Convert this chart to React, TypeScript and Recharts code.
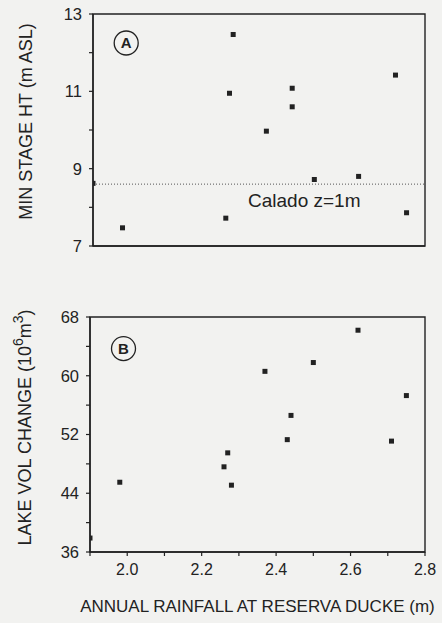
import React from "react";
import {
  ScatterChart,
  Scatter,
  XAxis,
  YAxis,
  ZAxis,
  ReferenceLine,
  ReferenceArea,
  ReferenceDot,
  Label,
} from "recharts";

// annual rainfall at Reserva Ducke (m), one per year
const rainA = [1.9, 1.98, 2.26, 2.27, 2.28, 2.37, 2.44, 2.44, 2.5, 2.62, 2.72, 2.75];
const minStage = [8.62, 7.47, 7.72, 10.95, 12.47, 9.97, 11.08, 10.6, 8.72, 8.8, 11.42, 7.86];

const rainB = [1.9, 1.98, 2.26, 2.27, 2.28, 2.37, 2.43, 2.44, 2.5, 2.62, 2.71, 2.75];
const volChange = [37.9, 45.5, 47.6, 49.5, 45.1, 60.6, 51.3, 54.6, 61.8, 66.2, 51.1, 57.3];

const xTicks = [1.9, 2.0, 2.1, 2.2, 2.3, 2.4, 2.5, 2.6, 2.7, 2.8];
const xLabels = ["2.0", "2.2", "2.4", "2.6", "2.8"];
const yTicksA = [7, 8, 9, 10, 11, 12, 13];
const yLabelsA = [7, 9, 11, 13];
const yTicksB = [36, 40, 44, 48, 52, 56, 60, 64, 68];
const yLabelsB = [36, 44, 52, 60, 68];

const caladoLevel = 8.6;

const dataA = rainA.map((x, i) => ({ x, y: minStage[i] }));
const dataB = rainB.map((x, i) => ({ x, y: volChange[i] }));

const INK = "#222";
const BG = "#f2f2f0";
const FONT = `"Liberation Sans", Arial, Helvetica, sans-serif`;

const axisLine = { stroke: INK, strokeWidth: 1.4 };
const tickLine = { stroke: INK, strokeWidth: 1.2 };
const tickText = { fill: INK, fontSize: 16.5, fontFamily: FONT };

function YTitle({ viewBox, x, shift, children }: any) {
  const cy = viewBox.y + viewBox.height / 2 + shift;
  return (
    <text
      x={x}
      y={cy}
      transform={`rotate(-90 ${x} ${cy})`}
      textAnchor="middle"
      dominantBaseline="central"
      fill={INK}
      fontFamily={FONT}
      fontSize={18}
    >
      {children}
    </text>
  );
}

function Square(props: any) {
  const { cx, cy } = props;
  return <rect x={cx - 2.5} y={cy - 2.5} width={5} height={5} fill={INK} />;
}

const letterStyle = { fill: INK, fontSize: 15, fontWeight: "bold", fontFamily: FONT };

export default function App() {
  return (
    <div
      style={{
        position: "absolute",
        left: 0,
        top: 0,
        width: 442,
        height: 623,
        background: BG,
        fontFamily: FONT,
      }}
    >
      {/* panel A */}
      <ScatterChart width={442} height={260} margin={{ top: 14, right: 17, left: 0, bottom: 0 }}>
        <XAxis
          type="number"
          dataKey="x"
          domain={[1.9, 2.8]}
          ticks={xTicks}
          tick={false}
          tickSize={4}
          height={14}
          axisLine={axisLine}
          tickLine={tickLine}
          allowDataOverflow
        />
        <YAxis
          type="number"
          dataKey="y"
          domain={[7, 13]}
          ticks={yTicksA}
          width={93}
          tickSize={4}
          tickMargin={7}
          axisLine={axisLine}
          tickLine={tickLine}
          tick={tickText}
          tickFormatter={(v: number) => (yLabelsA.includes(v) ? String(v) : "")}
          label={
            <Label
              content={(p: any) => (
                <YTitle viewBox={p.viewBox} x={26} shift={-8.5}>
                  MIN STAGE HT (m ASL)
                </YTitle>
              )}
            />
          }
        />
        <ZAxis range={[25, 25]} />
        <ReferenceArea x1={1.9} x2={2.8} y1={7} y2={13} fill="none" stroke={INK} strokeWidth={1.4} />
        <ReferenceLine
          y={caladoLevel}
          stroke="#555"
          strokeDasharray="1 2"
          strokeWidth={1}
          label={
            <Label
              content={(p: any) => (
                <text
                  x={p.viewBox.x + 155}
                  y={p.viewBox.y + 23}
                  fill={INK}
                  fontFamily={FONT}
                  fontSize={19}
                >
                  Calado z=1m
                </text>
              )}
            />
          }
        />
        <ReferenceDot
          x={1.99}
          y={12.25}
          r={12}
          fill="none"
          stroke={INK}
          strokeWidth={1.3}
          label={{ value: "A", position: "center", ...letterStyle }}
        />
        <Scatter data={dataA} shape={<Square />} isAnimationActive={false} />
      </ScatterChart>

      {/* panel B */}
      <ScatterChart width={442} height={363} margin={{ top: 57, right: 17, left: 0, bottom: 0 }}>
        <XAxis
          type="number"
          dataKey="x"
          domain={[1.9, 2.8]}
          ticks={xTicks}
          height={71}
          tickSize={4}
          tickMargin={8}
          axisLine={axisLine}
          tickLine={tickLine}
          tick={{ fill: INK, fontSize: 16, fontFamily: FONT }}
          tickFormatter={(v: number) => (xLabels.includes(v.toFixed(1)) ? v.toFixed(1) : "")}
          allowDataOverflow
          label={
            <Label
              content={(p: any) => (
                <text
                  x={p.viewBox.x + p.viewBox.width / 2}
                  y={352}
                  textAnchor="middle"
                  fill={INK}
                  fontFamily={FONT}
                  fontSize={17}
                >
                  ANNUAL RAINFALL AT RESERVA DUCKE (m)
                </text>
              )}
            />
          }
        />
        <YAxis
          type="number"
          dataKey="y"
          domain={[36, 68]}
          ticks={yTicksB}
          width={90}
          tickSize={4}
          tickMargin={7}
          axisLine={axisLine}
          tickLine={tickLine}
          tick={tickText}
          tickFormatter={(v: number) => (yLabelsB.includes(v) ? String(v) : "")}
          label={
            <Label
              content={(p: any) => (
                <YTitle viewBox={p.viewBox} x={25} shift={-7}>
                  LAKE VOL CHANGE (10
                  <tspan dy={-7} fontSize={14}>6</tspan>
                  <tspan dy={7}>m</tspan>
                  <tspan dy={-7} fontSize={14}>3</tspan>
                  <tspan dy={7}>)</tspan>
                </YTitle>
              )}
            />
          }
        />
        <ZAxis range={[25, 25]} />
        <ReferenceArea x1={1.9} x2={2.8} y1={36} y2={68} fill="none" stroke={INK} strokeWidth={1.4} />
        <ReferenceDot
          x={1.99}
          y={63.7}
          r={12}
          fill="none"
          stroke={INK}
          strokeWidth={1.3}
          label={{ value: "B", position: "center", ...letterStyle }}
        />
        <Scatter data={dataB} shape={<Square />} isAnimationActive={false} />
      </ScatterChart>
    </div>
  );
}
